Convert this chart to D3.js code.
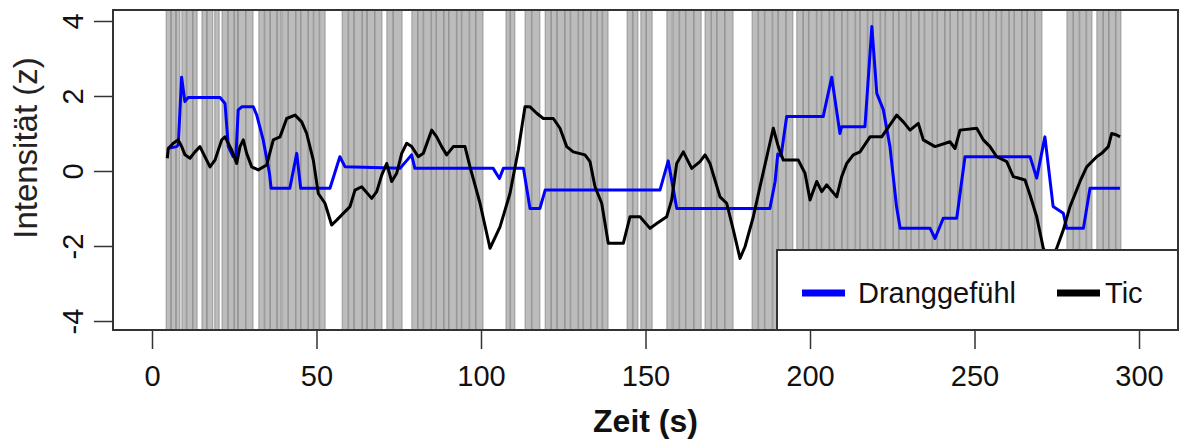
<!DOCTYPE html>
<html>
<head>
<meta charset="utf-8">
<script src="https://cdn.jsdelivr.net/npm/d3@7/dist/d3.min.js"></script>
<style>
  html, body { margin: 0; padding: 0; background: #fff; }
  svg { display: block; font-family: "Liberation Sans", Arial, sans-serif; }
</style>
</head>
<body>
<svg id="chart" width="1181" height="447"></svg>
<script>
// Tic episodes (start, end) in seconds
const ticEpisodes = [
  [4.3,5.6],[5.9,7.2],[7.4,8.5],
  [9.1,10.4],[10.6,12.3],[12.5,13.7],
  [15.2,16.6],[16.8,18.5],
  [19.1,20.4],
  [21.3,23.0],[23.2,24.9],[25.1,26.0],[26.3,28.4],[28.6,30.7],
  [32.5,34.1],[34.3,35.8],[36.0,37.9],[38.1,39.2],[39.5,41.3],[41.5,43.6],[43.8,45.1],[45.3,47.4],[47.6,49.0],[49.2,50.8],[51.0,52.6],
  [57.8,59.6],[59.8,61.3],[61.5,63.8],[64.0,65.2],[65.5,67.6],[67.8,69.9],
  [71.4,73.2],[73.4,76.0],
  [79.0,80.7],[80.9,82.4],[82.6,84.8],[85.0,86.3],[86.5,88.6],[88.8,90.1],[90.3,92.5],[92.7,94.0],[94.2,96.4],[96.6,98.3],[98.5,100.6],
  [107.6,108.8],[109.0,110.3],
  [113.4,115.3],[115.5,117.9],
  [119.5,121.2],[121.4,123.0],[123.2,125.4],[125.6,127.1],[127.3,129.5],[129.7,131.0],[131.2,133.3],[133.5,135.2],[135.4,136.8],[137.0,138.6],
  [144.4,146.0],[146.2,147.7],
  [148.6,150.1],[150.3,152.0],
  [156.5,158.1],
  [158.4,160.2],[160.4,162.1],[162.3,164.6],[164.8,166.9],
  [168.1,169.9],[170.1,171.6],[171.8,174.0],[174.2,176.6],
  [182.4,184.2],[184.4,186.1],[186.3,188.5],[188.7,190.2],[190.4,192.6],[192.8,194.8],
  [196.0,197.8],[198.0,199.5],[199.7,201.9],[202.1,203.4],[203.6,205.8],[206.0,207.2],[207.5,209.6],[209.8,211.3],
  [211.5,213.7],[213.9,215.1],[215.3,217.4],[217.6,219.0],[219.2,221.3],[221.5,222.8],[223.0,225.2],[225.4,226.9],
  [227.1,229.2],[229.4,230.6],[230.8,233.0],[233.2,234.7],[234.9,237.1],[237.3,238.6],[238.8,240.9],[241.1,242.5],
  [242.7,244.8],[245.0,246.3],[246.5,248.7],[248.9,250.4],[250.6,252.6],[252.8,254.2],[254.4,256.5],[256.7,258.1],
  [258.3,260.4],[260.6,262.0],[262.2,264.3],[264.5,265.9],[266.1,268.2],[268.4,270.5],
  [278.1,279.9],[280.1,281.8],[282.0,283.9],[284.1,285.7],
  [287.2,289.0],[289.2,290.7],[290.9,292.8],[293.0,294.5]
];

// Urge intensity (z) over time
const urgeTime = [4.65,7.5,8.0,9.0,10.0,11.0,20.7,22.2,23.2,24.7,25.5,26.2,27.3,30.8,31.8,33.8,35.7,36.2,41.9,44.0,45.2,
  54.1,57.1,58.7,75.4,78.9,79.9,103.7,105.6,106.8,112.9,114.9,117.9,119.5,154.4,156.9,159.5,187.8,189.4,190.2,191.2,192.9,
  204.0,206.6,209.1,209.6,216.7,218.8,220.3,222.3,224.3,226.3,227.4,236.5,238.0,240.5,244.6,247.1,266.9,268.9,271.4,
  273.9,277.0,278.0,283.1,285.1,294.2];
const urgeValue = [0.6,0.65,0.7,2.5,1.85,1.96,1.96,1.8,0.65,0.38,0.35,1.63,1.71,1.71,1.5,0.83,-0.06,-0.46,-0.46,0.47,-0.46,
  -0.46,0.38,0.11,0.07,0.43,0.07,0.07,-0.2,0.07,0.07,-1.0,-1.0,-0.51,-0.51,0.27,-1.0,-1.0,-0.28,0.45,0.4,1.45,
  1.45,2.5,1.0,1.18,1.18,3.85,2.07,1.63,0.65,-0.95,-1.53,-1.53,-1.8,-1.26,-1.26,0.38,0.38,-0.19,0.91,
  -0.95,-1.13,-1.53,-1.53,-0.46,-0.46];

// Tic intensity (z) over time
const ticTime = [4.65,4.95,6.47,7.99,9.03,10.03,11.55,13.07,14.59,15.59,17.63,19.15,21.19,22.19,24.22,25.74,26.75,27.75,
  28.78,30.30,32.31,34.86,36.87,38.91,40.94,43.47,45.50,47.02,49.03,50.55,52.58,54.62,56.14,58.15,60.18,61.70,63.74,
  66.78,68.30,69.82,71.34,72.86,74.38,75.90,77.42,78.94,80.94,82.46,85.02,86.53,88.05,89.57,91.58,95.14,96.66,99.70,
  102.74,105.78,108.81,111.34,113.37,114.89,116.93,118.94,121.98,124.01,126.05,128.05,131.61,133.13,134.65,136.69,
  138.69,143.25,145.29,148.33,151.37,153.40,156.44,157.96,159.48,161.49,164.04,166.57,168.09,169.60,172.64,174.68,
  176.69,178.72,180.24,182.77,184.80,187.33,188.84,190.36,191.88,196.44,198.48,200.00,202.04,203.56,205.08,208.12,
  209.63,211.15,213.16,215.20,218.24,221.79,226.35,228.36,230.40,232.92,234.44,237.99,242.55,244.07,245.59,250.67,
  252.68,254.71,256.75,259.79,261.79,265.35,266.87,268.91,270.91,272.95,274.98,276.99,279.03,282.07,284.10,287.14,
  288.66,290.67,291.70,293.22,294.22];
const ticValue = [0.34,0.6,0.74,0.83,0.65,0.43,0.34,0.51,0.65,0.47,0.11,0.29,0.83,0.91,0.56,0.2,0.65,0.83,
  0.47,0.11,0.03,0.16,0.83,0.91,1.4,1.49,1.31,1.0,0.29,-0.6,-0.86,-1.44,-1.31,-1.13,-0.95,-0.51,-0.42,
  -0.73,-0.55,-0.11,0.2,-0.28,-0.06,0.47,0.74,0.65,0.38,0.47,1.09,0.91,0.65,0.43,0.65,0.65,0.11,-0.86,
  -2.06,-1.49,-0.6,0.56,1.71,1.71,1.54,1.4,1.4,1.14,0.65,0.51,0.43,0.25,-0.42,-0.86,
  -1.93,-1.93,-1.22,-1.22,-1.53,-1.4,-1.22,-0.77,0.2,0.51,0.07,0.25,0.43,0.2,-0.69,-0.86,
  -1.57,-2.33,-2.02,-1.22,-0.42,0.56,1.14,0.65,0.29,0.29,-0.06,-0.77,-0.28,-0.55,-0.37,-0.69,
  -0.15,0.2,0.43,0.51,0.91,0.91,1.49,1.31,1.09,1.27,0.83,0.65,0.78,0.6,1.09,1.14,
  0.83,0.65,0.38,0.25,-0.15,-0.24,-0.64,-1.22,-2.06,-2.4,-2.06,-1.57,-0.95,-0.28,0.11,0.38,
  0.47,0.65,1.0,0.96,0.91];

const xTicks = [0, 50, 100, 150, 200, 250, 300];
const yTicks = [-4, -2, 0, 2, 4];
const seriesNames = ["Dranggefühl", "Tic"];
const seriesColors = ["#0000ff", "#000000"];

const svg = d3.select("#chart");
const plot = { left: 113, right: 1178, top: 10, bottom: 330 };

const x = d3.scaleLinear().domain([-11.85, 311.85]).range([plot.left, plot.right]);
const y = d3.scaleLinear().domain([-4.24, 4.293]).range([plot.bottom, plot.top]);

svg.append("defs").append("clipPath").attr("id", "plotClip")
  .append("rect")
  .attr("x", plot.left).attr("y", plot.top)
  .attr("width", plot.right - plot.left).attr("height", plot.bottom - plot.top);

const inner = svg.append("g").attr("clip-path", "url(#plotClip)");

// tic episodes as shaded bands
inner.append("g").selectAll("rect")
  .data(ticEpisodes)
  .join("rect")
  .attr("x", d => x(d[0]))
  .attr("width", d => x(d[1]) - x(d[0]))
  .attr("y", plot.top)
  .attr("height", plot.bottom - plot.top)
  .attr("fill", "#bcbcbc")
  .attr("stroke", "#8a8a8a")
  .attr("stroke-width", 0.8);

const line = d3.line().x(d => x(d[0])).y(d => y(d[1]));
const urgeData = urgeTime.map((t, i) => [t, urgeValue[i]]);
const ticData = ticTime.map((t, i) => [t, ticValue[i]]);

inner.append("path").datum(urgeData)
  .attr("d", line).attr("fill", "none")
  .attr("stroke", seriesColors[0]).attr("stroke-width", 3)
  .attr("stroke-linejoin", "round");

inner.append("path").datum(ticData)
  .attr("d", line).attr("fill", "none")
  .attr("stroke", seriesColors[1]).attr("stroke-width", 3)
  .attr("stroke-linejoin", "round");

// legend
const lg = svg.append("g");
lg.append("rect")
  .attr("x", 777).attr("y", 250).attr("width", plot.right - 777).attr("height", plot.bottom - 250)
  .attr("fill", "#fff").attr("stroke", "#333").attr("stroke-width", 2);
const legendItems = [
  { name: seriesNames[0], color: seriesColors[0], x0: 802, tx: 858 },
  { name: seriesNames[1], color: seriesColors[1], x0: 1057, tx: 1105 }
];
legendItems.forEach(it => {
  lg.append("line").attr("x1", it.x0).attr("x2", it.x0 + 43).attr("y1", 293).attr("y2", 293)
    .attr("stroke", it.color).attr("stroke-width", 7);
  lg.append("text").attr("x", it.tx).attr("y", 303)
    .attr("font-size", 29).attr("fill", "#111").text(it.name);
});

// plot frame
svg.append("rect")
  .attr("x", plot.left).attr("y", plot.top)
  .attr("width", plot.right - plot.left).attr("height", plot.bottom - plot.top)
  .attr("fill", "none").attr("stroke", "#333").attr("stroke-width", 2);

// x axis
const xAxis = svg.append("g").attr("transform", `translate(0,${plot.bottom})`)
  .call(d3.axisBottom(x).tickValues(xTicks).tickSize(19).tickSizeOuter(0).tickPadding(16));
xAxis.select(".domain").attr("d", `M${x(0)},0H${x(300)}`).attr("stroke", "#333").attr("stroke-width", 2);
xAxis.selectAll(".tick line").attr("stroke", "#333").attr("stroke-width", 1.5);
xAxis.selectAll(".tick text").attr("font-size", 29).attr("font-family", "Liberation Sans, Arial, sans-serif")
  .attr("fill", "#111");

// y axis (labels use a plain hyphen for negatives)
const yAxis = svg.append("g").attr("transform", `translate(${plot.left},0)`)
  .call(d3.axisLeft(y).tickValues(yTicks).tickSize(19).tickSizeOuter(0).tickFormat(d => String(d)));
yAxis.select(".domain").attr("d", `M0,${y(-4)}V${y(4)}`).attr("stroke", "#333").attr("stroke-width", 2);
yAxis.selectAll(".tick line").attr("stroke", "#333").attr("stroke-width", 1.5);
yAxis.selectAll(".tick text")
  .attr("font-size", 29).attr("font-family", "Liberation Sans, Arial, sans-serif").attr("fill", "#111")
  .attr("x", null).attr("dy", null)
  .attr("text-anchor", "middle")
  .attr("transform", "translate(-30,0) rotate(-90)");

// axis titles
svg.append("text")
  .attr("transform", `translate(37,148) rotate(-90)`)
  .attr("text-anchor", "middle").attr("font-size", 33).attr("fill", "#222")
  .text("Intensität (z)");
svg.append("text")
  .attr("x", x(150)).attr("y", 432)
  .attr("text-anchor", "middle").attr("font-size", 32).attr("font-weight", "bold").attr("fill", "#111")
  .text("Zeit (s)");
</script>
</body>
</html>
